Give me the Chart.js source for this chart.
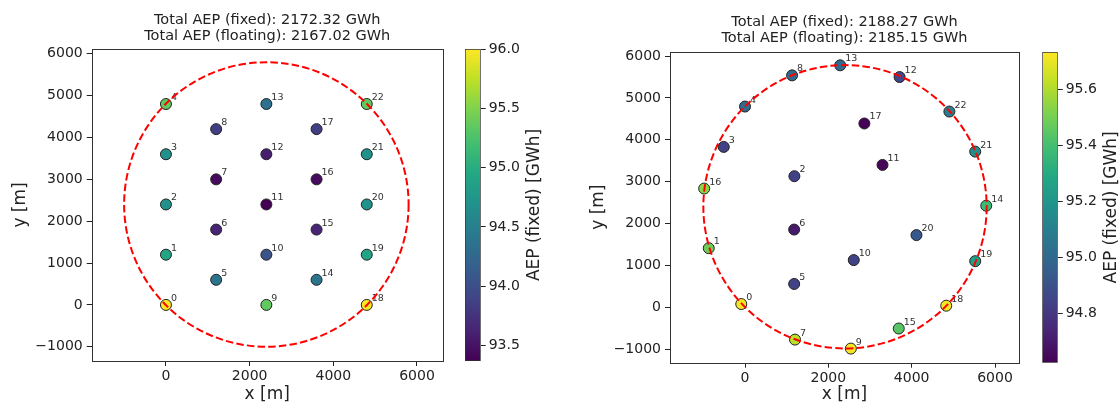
<!DOCTYPE html>
<html>
<head>
<meta charset="utf-8">
<script src="https://cdn.jsdelivr.net/npm/chart.js@4.4.0/dist/chart.umd.min.js"></script>
<style>
  body { margin: 0; background: #fff; }
  #wrap { position: relative; width: 1120px; height: 405px; overflow: hidden; }
  canvas { position: absolute; top: 0; }
</style>
</head>
<body>
<div id="wrap">
  <canvas id="layoutFixed" width="460" height="405" style="left:0px"></canvas>
  <canvas id="cbarFixed" width="120" height="405" style="left:440px"></canvas>
  <canvas id="layoutFloat" width="480" height="405" style="left:560px"></canvas>
  <canvas id="cbarFloat" width="110" height="405" style="left:1010px"></canvas>
</div>
<script>
// turbine ids (same for both layouts)
const turbineIds = [0,1,2,3,4,5,6,7,8,9,10,11,12,13,14,15,16,17,18,19,20,21,22];

// grid layout (left)
const gridX = [0,0,0,0,0, 1200,1200,1200,1200, 2400,2400,2400,2400,2400, 3600,3600,3600,3600, 4800,4800,4800,4800,4800];
const gridY = [0,1200,2400,3600,4800, 600,1800,3000,4200, 0,1200,2400,3600,4800, 600,1800,3000,4200, 0,1200,2400,3600,4800];
const gridAEP = [96.0,94.9,94.68,94.68,95.35, 94.37,93.63,93.45,93.85, 95.35,94.03,93.37,93.58,94.35,
                 94.37,93.63,93.45,93.85, 96.0,94.9,94.68,94.68,95.35];

// optimised layout (right)
const optX = [-90,-870,1185,-510,0, 1180,1180,1200,1130, 2540,2610,3300,3710,2285, 5790,3690,-980,2865, 4830,5525,4115,5525,4905];
const optY = [75,1410,3130,3830,4795, 555,1855,-775,5540, -990,1125,3400,5500,5780, 2425,-510,2835,4390, 35,1100,1722,3718,4675];
const optAEP = [95.72,95.49,94.84,94.84,95.01, 94.84,94.70,95.62,95.01, 95.72,94.84,94.64,94.86,95.01,
                95.37,95.44,95.54,94.63, 95.72,95.25,94.93,95.17,95.09];

// colorbar ranges and ticks
const gridRange = [93.37, 96.0];
const gridCbarTicks = [93.5, 94.0, 94.5, 95.0, 95.5, 96.0];
const optRange = [94.624, 95.734];
const optCbarTicks = [94.8, 95.0, 95.2, 95.4, 95.6];

// axis ticks
const xTicks = [0, 2000, 4000, 6000];
const yTicks = [-1000, 0, 1000, 2000, 3000, 4000, 5000, 6000];

// boundary circle
const boundaryCenter = [2400, 2400];
const boundaryRadius = 3400;

const gridTitle = ["Total AEP (fixed): 2172.32 GWh", "Total AEP (floating): 2167.02 GWh"];
const optTitle = ["Total AEP (fixed): 2188.27 GWh", "Total AEP (floating): 2185.15 GWh"];

// viridis colormap stops
const viridis = ["#440154","#482475","#414487","#355f8d","#2a788e","#21918c","#22a884","#44bf70","#7ad151","#bddf26","#fde725"];

Chart.defaults.font.family = "'DejaVu Sans', sans-serif";
Chart.defaults.color = "#222";

function hexToRgb(h) {
    return [parseInt(h.slice(1,3),16), parseInt(h.slice(3,5),16), parseInt(h.slice(5,7),16)];
}

function viridisColor(t) {
    t = Math.max(0, Math.min(1, t));
    const pos = t * (viridis.length - 1);
    const i = Math.min(Math.floor(pos), viridis.length - 2);
    const f = pos - i;
    const a = hexToRgb(viridis[i]), b = hexToRgb(viridis[i + 1]);
    const c = a.map((v, k) => Math.round(v + (b[k] - v) * f));
    return `rgb(${c[0]},${c[1]},${c[2]})`;
}

function fmtTick(v) {
    return v < 0 ? "\u2212" + Math.abs(v) : String(v);
}

// frame, turbine numbers and dashed boundary circle
const layoutExtras = {
    id: "layoutExtras",
    afterDatasetsDraw(chart) {
        const ctx = chart.ctx;
        const area = chart.chartArea;
        const xs = chart.scales.x, ys = chart.scales.y;
        ctx.save();
        ctx.beginPath();
        ctx.rect(area.left, area.top, area.right - area.left, area.bottom - area.top);
        ctx.clip();

        // turbine numbers
        ctx.fillStyle = "#333";
        ctx.font = "9.5px 'DejaVu Sans', sans-serif";
        ctx.textAlign = "left";
        ctx.textBaseline = "alphabetic";
        const meta = chart.getDatasetMeta(0);
        meta.data.forEach((pt, i) => {
            ctx.fillText(String(turbineIds[i]), pt.x + 5, pt.y - 4);
        });

        // boundary
        const cx = xs.getPixelForValue(boundaryCenter[0]);
        const cy = ys.getPixelForValue(boundaryCenter[1]);
        const r = xs.getPixelForValue(boundaryCenter[0] + boundaryRadius) - cx;
        ctx.strokeStyle = "#ff0000";
        ctx.lineWidth = 2;
        ctx.setLineDash([7.5, 3.2]);
        ctx.beginPath();
        ctx.arc(cx, cy, r, 0, Math.PI * 2);
        ctx.stroke();
        ctx.restore();

        ctx.save();
        ctx.strokeStyle = "#333";
        ctx.lineWidth = 1;
        ctx.strokeRect(Math.round(area.left) + 0.5, Math.round(area.top) + 0.5,
            Math.round(area.right - area.left), Math.round(area.bottom - area.top));
        ctx.restore();
    }
};

function makeLayout(id, xs, ys, aep, range, title, opts) {
    const colors = aep.map(v => viridisColor((v - range[0]) / (range[1] - range[0])));
    const points = xs.map((x, i) => ({ x: x, y: ys[i] }));
    return new Chart(document.getElementById(id), {
        type: "scatter",
        data: {
            datasets: [{
                data: points,
                pointBackgroundColor: colors,
                pointBorderColor: "#222",
                pointBorderWidth: 1,
                pointRadius: 5.5,
            }]
        },
        options: {
            responsive: false,
            animation: false,
            events: [],
            layout: { padding: { left: 0, right: opts.padRight, top: 0, bottom: 0 } },
            plugins: {
                legend: { display: false },
                tooltip: { enabled: false },
                title: {
                    display: true,
                    fullSize: false,
                    text: title,
                    color: "#222",
                    font: { size: 14.5, weight: "normal", lineHeight: 1.1 },
                    padding: { top: opts.titleTop, bottom: 5 }
                }
            },
            scales: {
                x: {
                    type: "linear",
                    min: opts.xMin, max: opts.xMax,
                    afterBuildTicks: axis => { axis.ticks = xTicks.map(v => ({ value: v })); },
                    afterFit: axis => { axis.height = opts.xAxisH; },
                    ticks: { font: { size: 14 }, color: "#222", padding: 2, maxRotation: 0, callback: fmtTick },
                    grid: { drawOnChartArea: false, drawTicks: true, tickLength: 5, tickColor: "#222" },
                    border: { display: false },
                    title: { display: true, text: "x [m]", font: { size: 17 }, color: "#222", padding: { top: 0, bottom: 0 } }
                },
                y: {
                    type: "linear",
                    min: opts.yMin, max: opts.yMax,
                    afterBuildTicks: axis => { axis.ticks = yTicks.map(v => ({ value: v })); },
                    afterFit: axis => { axis.width = opts.yAxisW; },
                    ticks: { font: { size: 14 }, color: "#222", padding: 4, callback: fmtTick },
                    grid: { drawOnChartArea: false, drawTicks: true, tickLength: 5, tickColor: "#222" },
                    border: { display: false },
                    title: { display: true, text: "y [m]", font: { size: 17 }, color: "#222", padding: { top: opts.yTitlePad, bottom: 0 } }
                }
            }
        },
        plugins: [layoutExtras]
    });
}

function makeColorbar(id, range, ticks, opts) {
    const cbarLabel = {
        id: "cbarLabel",
        afterDraw(chart) {
            const ctx = chart.ctx;
            const area = chart.chartArea;
            ctx.save();
            ctx.translate(area.right + opts.labelOffset, (area.top + area.bottom) / 2);
            ctx.rotate(-Math.PI / 2);
            ctx.fillStyle = "#222";
            ctx.font = "17px 'DejaVu Sans', sans-serif";
            ctx.textAlign = "center";
            ctx.textBaseline = "middle";
            ctx.fillText("AEP (fixed) [GWh]", 0, 0);
            ctx.restore();
        }
    };
    return new Chart(document.getElementById(id), {
        type: "bar",
        data: {
            labels: [""],
            datasets: [{
                data: [[range[0], range[1]]],
                backgroundColor: c => {
                    const area = c.chart.chartArea;
                    if (!area) return viridis[5];
                    const g = c.chart.ctx.createLinearGradient(0, area.bottom, 0, area.top);
                    viridis.forEach((col, i) => g.addColorStop(i / (viridis.length - 1), col));
                    return g;
                },
                borderColor: "#333",
                borderWidth: 1,
                borderSkipped: false,
                barPercentage: 1,
                categoryPercentage: 1
            }]
        },
        options: {
            responsive: false,
            animation: false,
            events: [],
            layout: { padding: { left: opts.padLeft, right: 0, top: opts.padTop, bottom: opts.padBottom } },
            plugins: { legend: { display: false }, tooltip: { enabled: false } },
            scales: {
                x: { display: false },
                y: {
                    position: "right",
                    min: range[0], max: range[1],
                    afterBuildTicks: axis => { axis.ticks = ticks.map(v => ({ value: v })); },
                    afterFit: axis => { axis.width = opts.axisW; },
                    ticks: { font: { size: 14 }, color: "#222", padding: 3, callback: v => v.toFixed(1) },
                    grid: { drawOnChartArea: false, drawTicks: true, tickLength: 5, tickColor: "#222" },
                    border: { display: false }
                }
            }
        },
        plugins: [cbarLabel]
    });
}

makeLayout("layoutFixed", gridX, gridY, gridAEP, gridRange, gridTitle, {
    xMin: -1775, xMax: 6615, yMin: -1340, yMax: 6117,
    padRight: 17.3, titleTop: 12, xAxisH: 44, yAxisW: 91.7, yTitlePad: 10
});
makeColorbar("cbarFixed", gridRange, gridCbarTicks, {
    padLeft: 25, padTop: 49, padBottom: 44, axisW: 79.3, labelOffset: 54
});

makeLayout("layoutFloat", optX, optY, optAEP, optRange, optTitle, {
    xMin: -1800, xMax: 6576, yMin: -1327, yMax: 6108,
    padRight: 21, titleTop: 14.7, xAxisH: 42.3, yAxisW: 110, yTitlePad: 28
});
makeColorbar("cbarFloat", optRange, optCbarTicks, {
    padLeft: 32.3, padTop: 52, padBottom: 42.3, axisW: 62.3, labelOffset: 54
});
</script>
</body>
</html>
